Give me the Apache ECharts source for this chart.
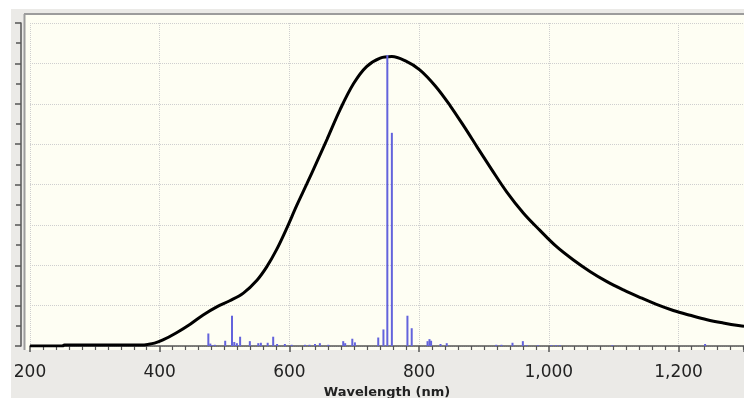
<!DOCTYPE html>
<html>
<head>
<meta charset="utf-8">
<script src="https://cdn.jsdelivr.net/npm/echarts@6/dist/echarts.min.js"></script>
<style>
  html, body { margin: 0; padding: 0; background: #fff; }
  #chart { width: 744px; height: 398px; }
</style>
</head>
<body>
<div id="chart"></div>
<script>
// broad emission curve (wavelength nm, relative intensity)
const curveWl = [200, 250, 253, 372, 382, 392, 405, 426, 447, 467, 488, 508, 529, 550, 565, 580, 596, 611, 627, 642, 658, 678, 699, 719, 740, 758, 779, 801, 825, 848, 870, 891, 912, 935, 961, 986, 1012, 1038, 1064, 1089, 1115, 1141, 1166, 1192, 1218, 1244, 1269, 1295, 1301];
const curveVal = [0, 0, 0.025, 0.025, 0.04, 0.07, 0.15, 0.33, 0.54, 0.77, 0.97, 1.12, 1.31, 1.63, 1.96, 2.38, 2.92, 3.47, 4.02, 4.55, 5.12, 5.85, 6.5, 6.92, 7.13, 7.17, 7.06, 6.84, 6.44, 5.95, 5.42, 4.89, 4.37, 3.82, 3.29, 2.87, 2.46, 2.13, 1.84, 1.6, 1.39, 1.2, 1.03, 0.88, 0.76, 0.65, 0.57, 0.5, 0.49];

// line (stick) spectrum
const stickWl = [475, 478, 480, 485, 501, 511.5, 515, 519, 524, 539, 552, 556, 566.5, 575, 581, 593, 603.5, 624, 631, 639.5, 647, 660, 683, 686, 697, 701, 737, 745, 751, 758, 782, 788.6, 813, 816, 818.5, 833, 842.6, 919, 927, 944, 960, 966, 983, 1004, 1011, 1017, 1098, 1241];
const stickVal = [0.31, 0.06, 0.02, 0.03, 0.13, 0.75, 0.1, 0.07, 0.23, 0.12, 0.07, 0.08, 0.08, 0.23, 0.05, 0.05, 0.03, 0.03, 0.03, 0.05, 0.07, 0.03, 0.12, 0.07, 0.18, 0.09, 0.21, 0.41, 7.21, 5.28, 0.75, 0.44, 0.12, 0.17, 0.13, 0.05, 0.07, 0.03, 0.03, 0.08, 0.12, 0.02, 0.02, 0.02, 0.02, 0.02, 0.02, 0.05];

const xTicks = [200, 400, 600, 800, 1000, 1200];

const chart = echarts.init(document.getElementById('chart'));

const option = {
  animation: false,
  backgroundColor: '#ffffff',
  textStyle: { fontFamily: 'DejaVu Sans' },
  // panel and plot background
  graphic: [
    { type: 'rect', z: -20, silent: true, shape: { x: 11, y: 9, width: 740, height: 400 }, style: { fill: '#ebeae7' } },
    { type: 'rect', z: -19, silent: true, shape: { x: 25, y: 14, width: 725, height: 336 }, style: { fill: '#fefef3' } },
    { type: 'line', z: -18, silent: true, shape: { x1: 24, y1: 14, x2: 750, y2: 14 }, style: { stroke: '#9c9c9c', lineWidth: 2 } },
    { type: 'line', z: -18, silent: true, shape: { x1: 24.5, y1: 14, x2: 24.5, y2: 350 }, style: { stroke: '#9c9c9c', lineWidth: 2 } }
  ],
  grid: { left: 30, right: 0, top: 23, bottom: 52, containLabel: false, outerBoundsMode: 'none' },
  xAxis: {
    type: 'value',
    min: 200,
    max: 1301,
    interval: 200,
    offset: 9,
    name: 'Wavelength (nm)',
    nameLocation: 'middle',
    nameGap: 26,
    nameTextStyle: { fontSize: 13, fontWeight: 'bold', color: '#222' },
    axisLine: { show: true, lineStyle: { color: '#555', width: 1.5 } },
    axisTick: { show: true, length: 6, lineStyle: { color: '#555', width: 1.5 } },
    minorTick: { show: true, splitNumber: 10, length: 4, lineStyle: { color: '#555', width: 1.2 } },
    axisLabel: {
      fontSize: 17, color: '#222', margin: 9, showMaxLabel: false,
      formatter: v => xTicks.includes(v) ? v.toLocaleString('en-US') : ''
    },
    splitLine: { show: true, lineStyle: { color: '#cfcfcf', type: 'dotted', width: 1 } }
  },
  yAxis: {
    type: 'value',
    min: 0,
    max: 8,
    interval: 1,
    offset: 9,
    axisLine: { show: true, lineStyle: { color: '#555', width: 1.5 } },
    axisTick: { show: true, length: 6, lineStyle: { color: '#555', width: 1.5 } },
    minorTick: { show: true, splitNumber: 2, length: 5, lineStyle: { color: '#555', width: 1.5 } },
    axisLabel: { show: false },
    splitLine: { show: true, lineStyle: { color: '#cfcfcf', type: 'dotted', width: 1 } }
  },
  series: [
    {
      type: 'line',
      data: curveWl.map((w, i) => [w, curveVal[i]]),
      symbol: 'none',
      smooth: 0.35,
      lineStyle: { color: '#000', width: 3 },
      z: 2
    },
    {
      type: 'bar',
      data: stickWl.map((w, i) => [w, stickVal[i]]),
      barWidth: 2,
      itemStyle: { color: '#6363dc' },
      z: 3
    }
  ]
};

chart.setOption(option);
</script>
</body>
</html>
